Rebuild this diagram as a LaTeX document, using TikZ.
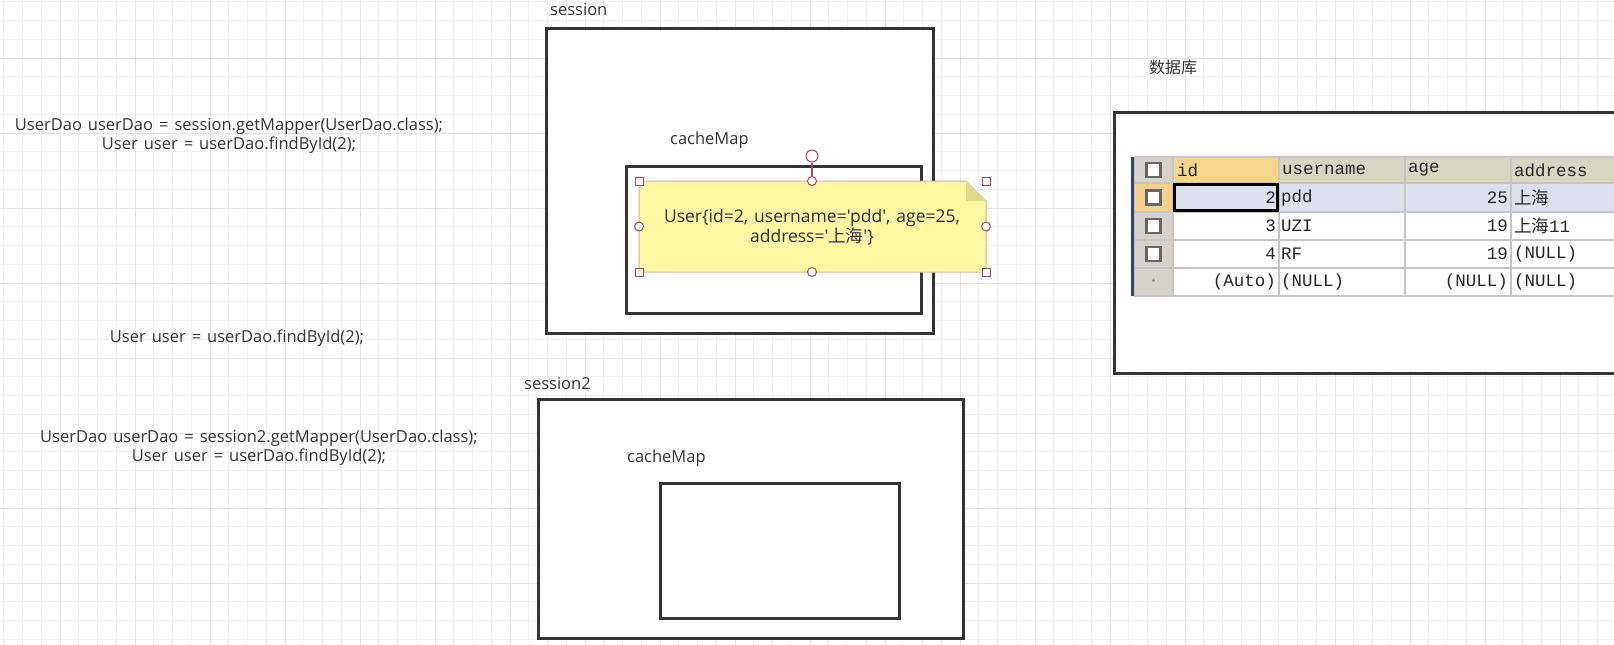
\documentclass[tikz,border=0pt]{standalone}
\usepackage{fontspec}
\newfontfamily\lat{Open Sans}
\newfontfamily\cjk{Noto Sans CJK SC}
\newfontfamily\mono{Liberation Mono}
\newcommand\codefont{\lat\fontsize{16.5}{19}\selectfont\fontdimen2\font=6pt\relax}
\newcommand\notefont{\lat\fontsize{17.5}{20}\selectfont\fontdimen2\font=6pt\relax}
\definecolor{ink}{HTML}{333333}
\definecolor{boxline}{HTML}{333333}
\definecolor{notefill}{HTML}{FFF7A3}
\definecolor{noteline}{HTML}{D4B890}
\definecolor{handle}{HTML}{9E4A5A}
\definecolor{foldc}{HTML}{E3D98A}
\definecolor{hdr}{HTML}{D9D5C3}
\definecolor{hdrid}{HTML}{FAD58E}
\definecolor{selrow}{HTML}{DDE1EE}
\definecolor{cbcol}{HTML}{D6D2CA}
\definecolor{cbsel}{HTML}{F5D08C}
\definecolor{cellline}{HTML}{C4C4C4}
\definecolor{leftbar}{HTML}{344270}
\definecolor{gminor}{HTML}{F1F1F1}
\definecolor{gmajor}{HTML}{E3E3E3}
\tikzset{
  lbl/.style={inner sep=0, text=ink, font=\codefont},
  frame/.style={draw=boxline, line width=3pt, fill=white, inner sep=0, anchor=north west},
  hsq/.style={draw=handle, fill=white, line width=1pt, minimum size=8pt, inner sep=0, rectangle},
  hci/.style={draw=handle, fill=white, line width=1pt, minimum size=9pt, inner sep=0, circle},
  tcell/.style={font=\mono\fontsize{17.5}{17.5}\selectfont, inner sep=0, text=black!85},
  cbox/.style={draw=black!60, line width=2.5pt, fill=white, minimum size=14pt, inner sep=0, rectangle},
}
\begin{document}
\begin{tikzpicture}[x=1pt, y=-1pt]
\useasboundingbox (0,0) rectangle (1614,645);
\fill[white] (0,0) rectangle (1614,645);
% grid
\foreach \k in {0,...,86} { \draw[gminor, line width=1pt] ({3.75+18.75*\k},0) -- ++(0,645); }
\foreach \k in {0,...,34} { \draw[gminor, line width=1pt] (0,{1.75+18.75*\k}) -- ++(1614,0); }
\foreach \k in {0,...,20} { \draw[gmajor, line width=1pt] ({60+75*\k},0) -- ++(0,645); }
\foreach \k in {0,...,7} { \draw[gmajor, line width=1pt] (0,{58+75*\k}) -- ++(1614,0); }

% left texts
\node[lbl, align=center] (code1) at (229,135.5) {UserDao userDao = session.getMapper(UserDao.class);\\User user = userDao.findById(2);};
\node[lbl] (code2) at (237,338) {User user = userDao.findById(2);};
\node[lbl, align=center] (code3) at (259,448) {UserDao userDao = session2.getMapper(UserDao.class);\\User user = userDao.findById(2);};

% session
\node[lbl, anchor=west] (sesslbl) at (550,10) {session};
\node[frame, minimum width=387pt, minimum height=305pt] (sess) at (545,27) {};
\node[lbl, anchor=west] (cm1lbl) at (670,140) {cacheMap};
\node[frame, minimum width=295pt, minimum height=147pt] (cm1) at (625,165) {};

% note
\fill[notefill] (639,181) -- (966,181) -- (986,201) -- (986,272) -- (639,272) -- cycle;
\draw[noteline, line width=1pt] (639,181) -- (966,181) -- (986,201) -- (986,272) -- (639,272) -- cycle;
\fill[foldc] (966,181) -- (986,201) -- (966,201) -- cycle;
\node[lbl, align=center, font=\notefont] (note) at (812,227) {User\{id=2, username='pdd', age=25,\\address='{\cjk 上海}'\}};
\node[hci, minimum size=12pt] (rot) at (812,156) {};
\node[hci] (ht) at (812,181) {};
\draw[handle, line width=1.2pt] (rot) -- (ht);
\node[hci] (hb) at (812,272) {};
\node[hci] (hl) at (639,226.5) {};
\node[hci] (hr) at (986,226.5) {};
\node[hsq] (htl) at (639,181) {};
\node[hsq] (htr) at (986,181) {};
\node[hsq] (hbl) at (639,272) {};
\node[hsq] (hbr) at (986,272) {};

% session2
\node[lbl, anchor=west] (sess2lbl) at (524,384) {session2};
\node[frame, minimum width=425pt, minimum height=239pt] (sess2) at (537,398) {};
\node[lbl, anchor=west] (cm2lbl) at (627,458) {cacheMap};
\node[frame, minimum width=239pt, minimum height=135pt] (cm2) at (659,482) {};

% database
\node[lbl, font=\cjk\fontsize{16}{19}\selectfont] (dblbl) at (1173,67) {数据库};
\fill[white] (1114,112) rectangle (1614,373);
\draw[boxline, line width=3pt] (1620,112) -- (1114,112) -- (1114,373) -- (1620,373);

% table backgrounds
\fill[cbcol] (1134,157) rectangle (1173,296);
\fill[cbsel] (1134,183) rectangle (1173,212);
\fill[hdrid] (1173,157) rectangle (1279,183);
\fill[hdr] (1279,157) rectangle (1614,183);
\fill[selrow] (1173,183) rectangle (1614,212);
\fill[white] (1173,212) rectangle (1614,296);
\foreach \c in {1134,1173,1279,1405,1511} { \draw[cellline, line width=1.5pt] (\c,157) -- (\c,296); }
\foreach \r in {157,183,212,240,268,296} { \draw[cellline, line width=1.5pt] (1134,\r) -- (1614,\r); }
\fill[leftbar] (1130.5,157) rectangle (1134,296);
\draw[black, line width=2.4pt] (1174.5,184.5) rectangle (1277.5,210.5);

% checkboxes
\node[cbox] (cb0) at (1153.5,170) {};
\node[cbox] (cb1) at (1153.5,197.5) {};
\node[cbox] (cb2) at (1153.5,226) {};
\node[cbox] (cb3) at (1153.5,254) {};
\node[inner sep=0, text=black!60, font=\lat\fontsize{7}{7}\selectfont] (cb4) at (1153.5,282) {*};

% header
\node[tcell, anchor=west] (hid) at (1177,170) {id};
\node[tcell, anchor=west] (hun) at (1282,170) {username};
\node[tcell, anchor=west] (hag) at (1408,170) {age};
\node[tcell, anchor=west] (had) at (1514,170) {address};
% rows
\node[tcell, anchor=east] (i1) at (1276,197.5) {2};
\node[tcell, anchor=west] (u1) at (1281,197.5) {pdd};
\node[tcell, anchor=east] (a1) at (1508,197.5) {25};
\node[tcell, anchor=west] (d1) at (1514,197.5) {{\cjk 上海}};
\node[tcell, anchor=east] (i2) at (1276,226) {3};
\node[tcell, anchor=west] (u2) at (1281,226) {UZI};
\node[tcell, anchor=east] (a2) at (1508,226) {19};
\node[tcell, anchor=west] (d2) at (1514,226) {{\cjk 上海}11};
\node[tcell, anchor=east] (i3) at (1276,254) {4};
\node[tcell, anchor=west] (u3) at (1281,254) {RF};
\node[tcell, anchor=east] (a3) at (1508,254) {19};
\node[tcell, anchor=west] (d3) at (1514,254) {(NULL)};
\node[tcell, anchor=east] (i4) at (1276,282) {(Auto)};
\node[tcell, anchor=west] (u4) at (1281,282) {(NULL)};
\node[tcell, anchor=east] (a4) at (1508,282) {(NULL)};
\node[tcell, anchor=west] (d4) at (1514,282) {(NULL)};
\end{tikzpicture}
\end{document}
